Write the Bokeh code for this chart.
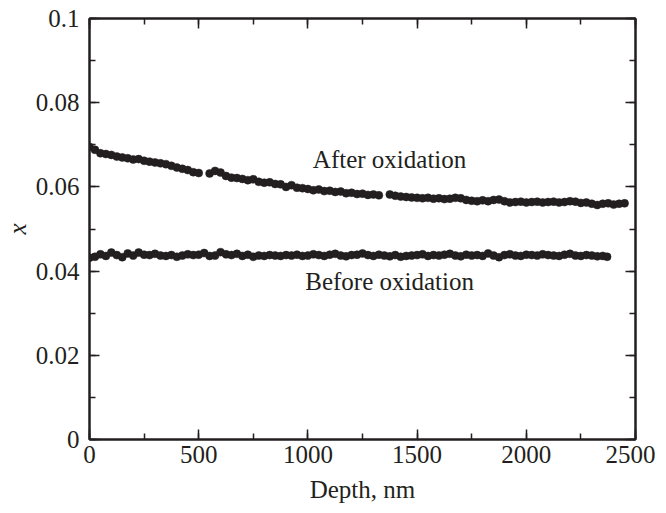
from bokeh.plotting import figure
from bokeh.models import LinearAxis, Range1d, SingleIntervalTicker, CustomJSTickFormatter, Label
from bokeh.embed import file_html
from bokeh.resources import INLINE

after_depth = [0, 25, 50, 75, 100, 125, 150, 175, 200, 225, 250, 275, 300, 325, 350, 375, 400, 425, 450, 475,
               500, 550, 575, 600, 625, 650, 675, 700, 725, 750, 775, 800, 825, 850, 875, 900, 925, 950, 975,
               1000, 1025, 1050, 1075, 1100, 1125, 1150, 1175, 1200, 1225, 1250, 1275, 1300, 1325,
               1375, 1400, 1425, 1450, 1475, 1500, 1525, 1550, 1575, 1600, 1625, 1650, 1675, 1700, 1725, 1750,
               1775, 1800, 1825, 1850, 1875, 1900, 1925, 1950, 1975, 2000, 2025, 2050, 2075, 2100, 2125, 2150,
               2175, 2200, 2225, 2250, 2275, 2300, 2325, 2350, 2375, 2400, 2425, 2450]
after_x = [0.0695, 0.0688, 0.0680, 0.0678, 0.0676, 0.0672, 0.0670, 0.0668, 0.0665, 0.0666, 0.0662, 0.0660,
           0.0658, 0.0656, 0.0654, 0.0650, 0.0646, 0.0643, 0.0640, 0.0635, 0.0633, 0.0632, 0.0638, 0.0634,
           0.0626, 0.0622, 0.0621, 0.0619, 0.0616, 0.0618, 0.0612, 0.0610, 0.0611, 0.0607, 0.0606, 0.0600,
           0.0604, 0.0598, 0.0597, 0.0595, 0.0592, 0.0594, 0.0590, 0.0591, 0.0588, 0.0589, 0.0585, 0.0586,
           0.0583, 0.0584, 0.0581, 0.0582, 0.0580, 0.0582, 0.0579, 0.0577, 0.0576, 0.0575, 0.0574, 0.0573,
           0.0574, 0.0572, 0.0573, 0.0571, 0.0572, 0.0574, 0.0573, 0.0569, 0.0567, 0.0566, 0.0568, 0.0566,
           0.0569, 0.0570, 0.0566, 0.0563, 0.0564, 0.0565, 0.0563, 0.0564, 0.0565, 0.0563, 0.0564, 0.0565,
           0.0563, 0.0564, 0.0566, 0.0565, 0.0562, 0.0563, 0.0560, 0.0557, 0.0560, 0.0561, 0.0558, 0.0560,
           0.0561]

before_depth = [0, 25, 50, 75, 100, 125, 150, 175, 200, 225, 250, 275, 300, 325, 350, 375, 400, 425, 450, 475,
                500, 525, 550, 575, 600, 625, 650, 675, 700, 725, 750, 775, 800, 825, 850, 875, 900, 925, 950,
                975, 1000, 1025, 1050, 1075, 1100, 1125, 1150, 1175, 1200, 1225, 1250, 1275, 1300, 1325, 1350,
                1375, 1400, 1425, 1450, 1475, 1500, 1525, 1550, 1575, 1600, 1625, 1650, 1675, 1700, 1725, 1750,
                1775, 1800, 1825, 1850, 1875, 1900, 1925, 1950, 1975, 2000, 2025, 2050, 2075, 2100, 2125, 2150,
                2175, 2200, 2225, 2250, 2275, 2300, 2325, 2350, 2370]
before_x = [0.0432, 0.0434, 0.0440, 0.0436, 0.0444, 0.0438, 0.0433, 0.0442, 0.0437, 0.0444, 0.0439, 0.0438,
            0.0441, 0.0437, 0.0436, 0.0438, 0.0434, 0.0437, 0.0440, 0.0438, 0.0439, 0.0443, 0.0436, 0.0437,
            0.0445, 0.0440, 0.0438, 0.0441, 0.0436, 0.0439, 0.0434, 0.0437, 0.0436, 0.0438, 0.0437, 0.0436,
            0.0438, 0.0437, 0.0439, 0.0436, 0.0437, 0.0440, 0.0438, 0.0436, 0.0439, 0.0441, 0.0437, 0.0435,
            0.0438, 0.0439, 0.0442, 0.0438, 0.0436, 0.0439, 0.0437, 0.0435, 0.0438, 0.0434, 0.0436, 0.0437,
            0.0438, 0.0440, 0.0436, 0.0438, 0.0437, 0.0439, 0.0441, 0.0437, 0.0435, 0.0439, 0.0437, 0.0438,
            0.0436, 0.0442, 0.0437, 0.0433, 0.0438, 0.0440, 0.0437, 0.0436, 0.0439, 0.0438, 0.0437, 0.0440,
            0.0438, 0.0437, 0.0436, 0.0439, 0.0441, 0.0437, 0.0436, 0.0438, 0.0437, 0.0435, 0.0436, 0.0434]

x_ticks = [0, 500, 1000, 1500, 2000, 2500]
y_ticks = [0, 0.02, 0.04, 0.06, 0.08, 0.1]

INK = "#231f20"
FONT = "Liberation Serif"

p = figure(output_backend="svg", toolbar_location=None,
           frame_width=546, frame_height=421,
           x_range=Range1d(0, 2500), y_range=Range1d(0, 0.1),
           min_border_left=84, min_border_right=20, min_border_top=18, min_border_bottom=60)
p.grid.grid_line_color = None
p.outline_line_color = INK
p.outline_line_width = 2
p.background_fill_color = "white"
p.border_fill_color = "white"

right = LinearAxis()
top = LinearAxis()
p.add_layout(right, "right")
p.add_layout(top, "above")

p.xaxis.ticker = SingleIntervalTicker(interval=500, num_minor_ticks=2)
p.yaxis.ticker = SingleIntervalTicker(interval=0.02, num_minor_ticks=2)
p.yaxis.formatter = CustomJSTickFormatter(code="return Number(tick.toFixed(2)).toString();")

p.axis.axis_line_color = INK
p.axis.axis_line_width = 2
p.axis.major_tick_in = 10
p.axis.major_tick_out = 0
p.axis.minor_tick_in = 6
p.axis.minor_tick_out = 0
p.axis.major_tick_line_color = INK
p.axis.minor_tick_line_color = INK
p.axis.major_tick_line_width = 1.5
p.axis.minor_tick_line_width = 1.5
p.axis.major_label_text_font = FONT
p.axis.major_label_text_font_size = "25px"
p.axis.major_label_text_color = INK
p.axis.axis_label_text_font = FONT
p.axis.axis_label_text_font_size = "25px"
p.axis.axis_label_text_color = INK

for ax in [right, top]:
    ax.major_label_text_color = None
    ax.major_label_text_font_size = "1px"
    ax.major_label_standoff = 0

bottom = p.below[0]
left = p.left[0]
bottom.axis_label = "Depth, nm"
bottom.axis_label_text_font_style = "normal"
bottom.major_label_standoff = 6
bottom.axis_label_standoff = 10
left.axis_label = "x"
left.axis_label_text_font_style = "italic"
left.major_label_standoff = 10
left.axis_label_standoff = 2

p.scatter(after_depth, after_x, size=8, fill_color=INK, line_color=INK, line_width=0.5)
p.scatter(before_depth, before_x, size=8, fill_color=INK, line_color=INK, line_width=0.5)

p.add_layout(Label(x=1374, y=0.0664, text="After oxidation", text_align="center", text_baseline="middle",
                   text_font=FONT, text_font_size="25px", text_color=INK))
p.add_layout(Label(x=1374, y=0.0376, text="Before oxidation", text_align="center", text_baseline="middle",
                   text_font=FONT, text_font_size="25px", text_color=INK))

open("out.html", "w").write(file_html(p, INLINE))
